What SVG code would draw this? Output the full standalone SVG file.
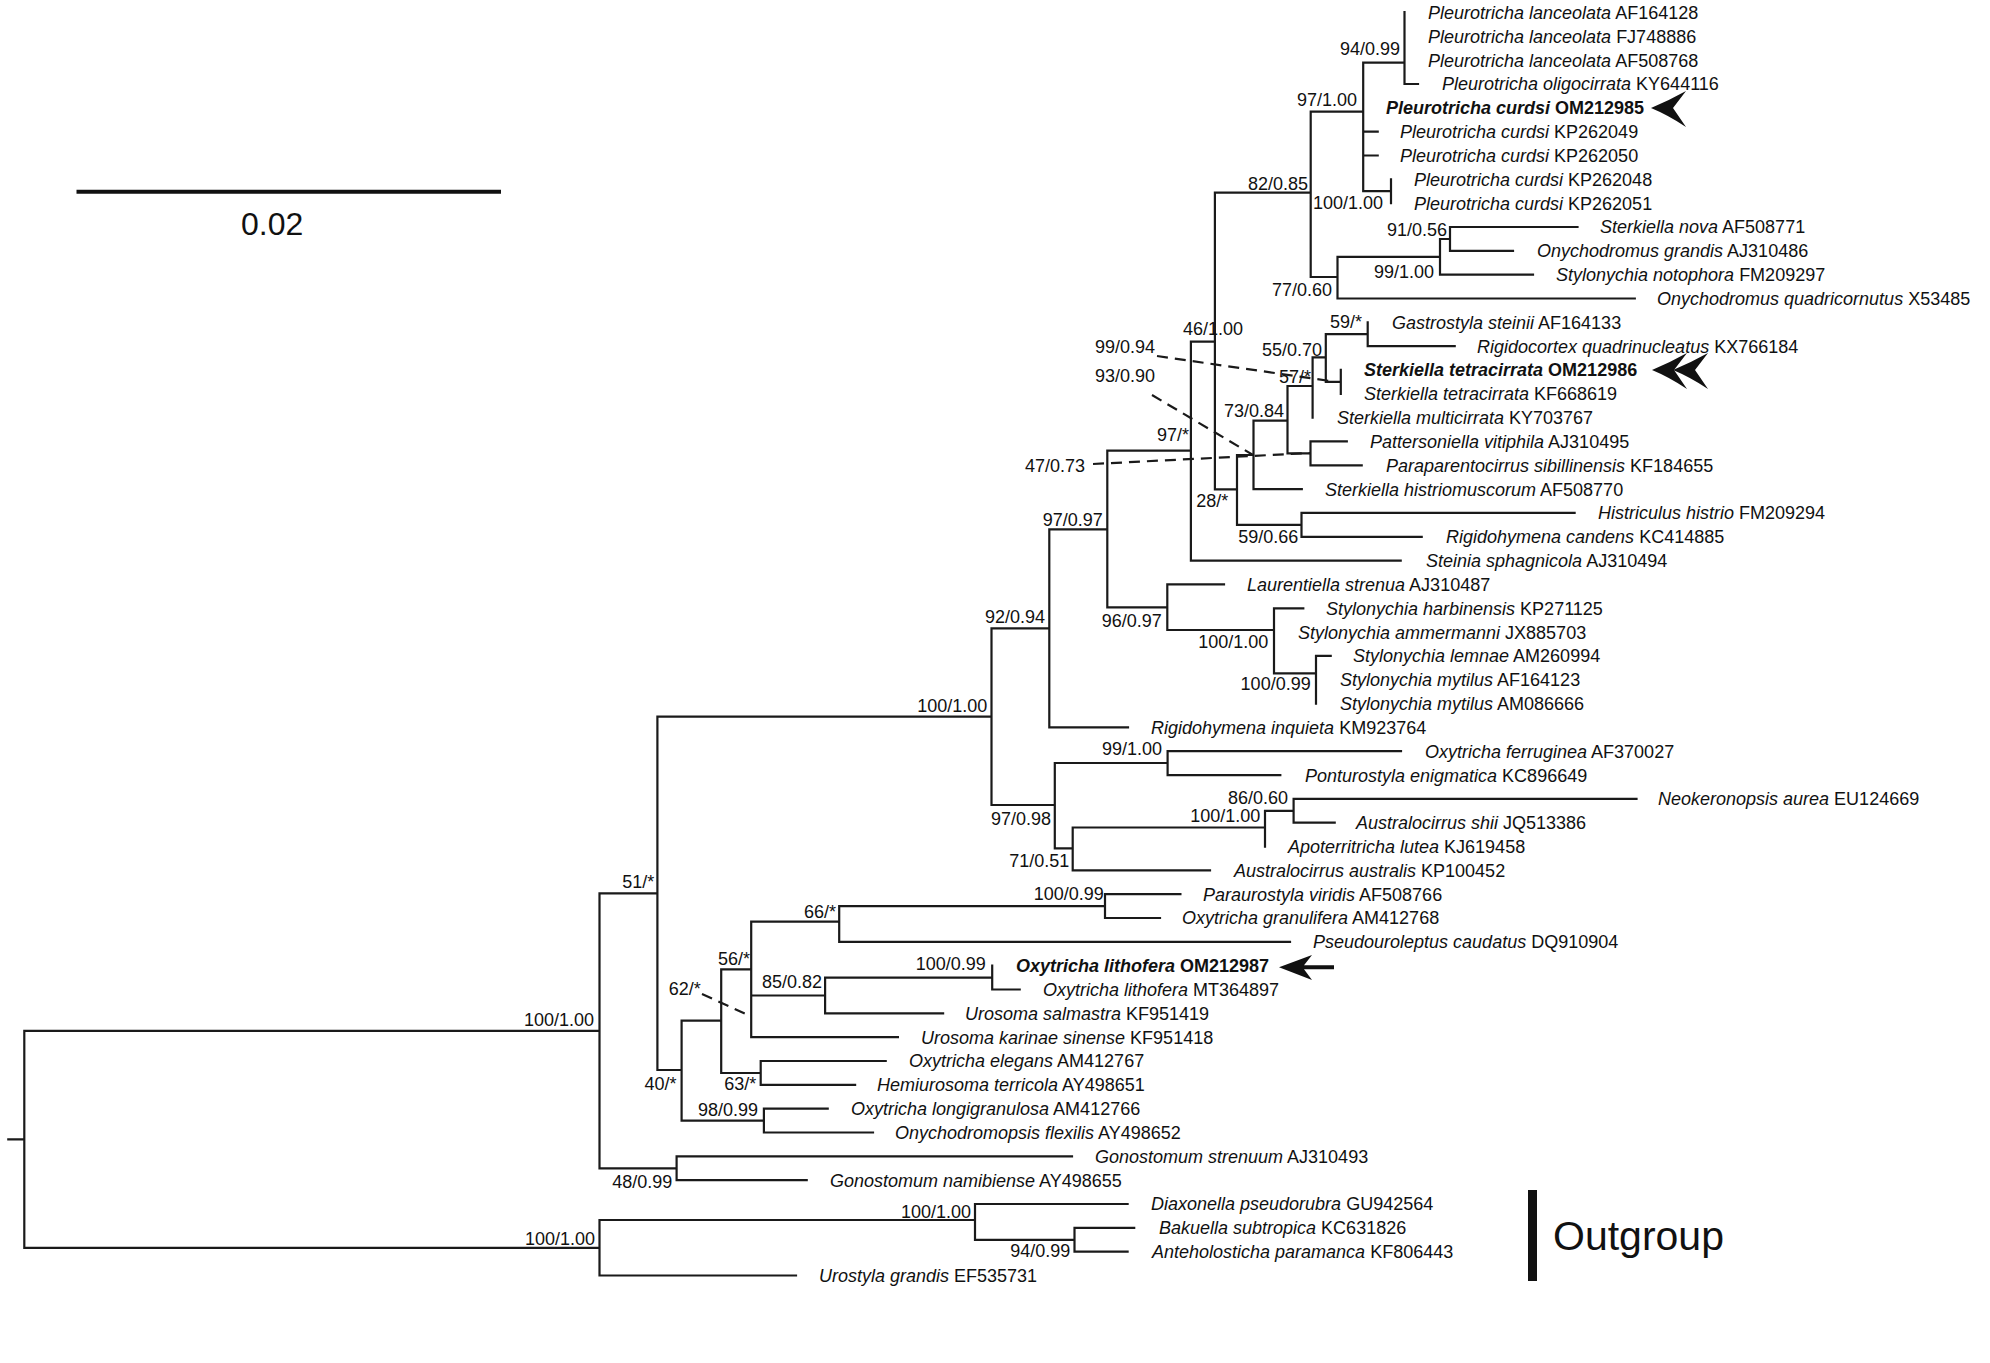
<svg xmlns="http://www.w3.org/2000/svg" width="1990" height="1363" viewBox="0 0 1990 1363">
<style>
text{font-family:"Liberation Sans",Arial,sans-serif;fill:#111}
.t{font-size:18px}
.i{font-style:italic}
.b{font-weight:bold}
.s{font-size:18px;text-anchor:end}
.br{fill:none;stroke:#1a1a1a;stroke-width:2.2;stroke-linecap:square}
.ld{fill:none;stroke:#1a1a1a;stroke-width:2.2;stroke-dasharray:11 7}
</style>
<defs>
<path id="chev" d="M0 0 Q17 -7 35 -17 L22 0 L35 19 Q17 7 0 0 Z" fill="#111"/>
</defs>
<rect width="1990" height="1363" fill="#fff"/>

<g id="connectors">
<path class="br" d="M8.3 1139.3H24.3M24.3 1030.8V1247.8M24.3 1030.8H599.5M24.3 1247.8H599.5
M599.5 893.3V1168.3M599.5 893.3H657.4M599.5 1168.3H676.6
M676.6 1156.3V1180.2M676.6 1156.3H1072M676.6 1180.2H806.7
M657.4 716.7V1070M657.4 716.7H991.5M657.4 1070H681.6
M681.6 1020.7V1120.6M681.6 1020.7H721.2M681.6 1120.6H763.9
M763.9 1108.7V1132.5M763.9 1108.7H827.7M763.9 1132.5H873
M721.2 969.3V1073M721.2 969.3H751.2M721.2 1073H760.7
M760.7 1061V1084.9M760.7 1061H885.7M760.7 1084.9H855.1
M751.2 921.7V1037.2M751.2 921.7H839.2M751.2 995.5H825.1M751.2 1037.2H897.9
M839.2 906.1V941.9M839.2 906.1H1105M839.2 941.9H1290
M1105 894.2V918M1105 894.2H1180.4M1105 918H1160
M825.1 977.6V1013.4M825.1 977.6H992.2M825.1 1013.4H943.1
M992.2 965.7V989.5M992.2 989.5H1019.7
M991.5 628.3V805M991.5 628.3H1049.3M991.5 805H1054.8
M1054.8 763V848.3M1054.8 763H1167.6M1054.8 848.3H1072.7
M1167.6 751.2V775.1M1167.6 751.2H1401M1167.6 775.1H1280.3
M1072.7 827.5V870.4M1072.7 827.5H1265M1072.7 870.4H1210
M1265 810.8V846.6M1265 810.8H1293.6
M1293.6 798.9V822.7M1293.6 798.9H1636.5M1293.6 822.7H1334.7
M1049.3 529.3V727.4M1049.3 529.3H1107.3M1049.3 727.4H1128
M1107.3 450.7V607.3M1107.3 450.7H1190.9M1107.3 607.3H1167.3
M1167.3 584.4V630M1167.3 584.4H1224M1167.3 630H1274
M1274 608.3V673.3M1274 608.3H1303.3M1274 673.3H1316
M1316 655.9V703.6M1316 655.9H1330.7
M1190.9 341.7V560.6M1190.9 341.7H1214.9M1190.9 560.6H1400.7
M1214.9 192.7V489.3M1214.9 192.7H1310.7M1214.9 489.3H1237
M1237 455V524.8M1237 455H1253.5M1237 524.8H1301.5
M1301.5 512.9V536.8M1301.5 512.9H1574.6M1301.5 536.8H1421.7
M1253.5 420.7V489.1M1253.5 420.7H1287.5M1253.5 489.1H1301.8
M1287.5 386V453.3M1287.5 386H1312.6M1287.5 453.3H1310.5
M1310.5 441.4V465.3M1310.5 441.4H1346.8M1310.5 465.3H1361.7
M1312.6 357.3V417.6M1312.6 357.3H1325.8
M1325.8 334.2V381.8M1325.8 334.2H1367.7M1325.8 381.8H1340.8
M1367.7 322.3V346.1M1367.7 346.1H1454.7
M1340.8 369.9V393.8
M1310.7 111.7V277M1310.7 111.7H1363.2M1310.7 277H1337.5
M1363.2 62.7V191.2M1363.2 62.7H1404.5M1363.2 131.7H1377.7M1363.2 155.5H1377.7M1363.2 191.2H1391
M1404.5 12V84M1404.5 84H1418
M1391 179.3V203.1
M1337.5 256.8V298.5M1337.5 256.8H1440M1337.5 298.5H1634.8
M1440 239V274.6M1440 239H1450M1440 274.6H1533
M1450 227V250.8M1450 227H1577.5M1450 250.8H1513
M599.5 1220V1275.5M599.5 1220H975M599.5 1275.5H796
M975 1204V1239.8M975 1204H1127.6M975 1239.8H1074.5
M1074.5 1227.8V1251.7M1074.5 1227.8H1134.2M1074.5 1251.7H1127.6"/>
<g id="leaders">
<path class="ld" d="M1157 356L1330 381"/>
<path class="ld" d="M1152 395L1253 455"/>
<path class="ld" d="M1093 464L1310 453"/>
<path class="ld" d="M702 994L750 1016" stroke-dasharray="9 8"/>
</g>
</g>

<g id="scale-bar">
<line x1="76.5" y1="191.7" x2="501" y2="191.7" stroke="#111" stroke-width="4"/>
<text x="241" y="235" style="font-size:32px">0.02</text>
</g>

<g id="outgroup-bracket">
<rect x="1528" y="1190" width="9" height="91" fill="#111"/>
<text x="1553" y="1250" style="font-size:41px">Outgroup</text>
</g>

<g id="arrows">
<use href="#chev" x="1651" y="108"/>
<use href="#chev" x="1652" y="370"/>
<use href="#chev" x="1673" y="370"/>
<path d="M1279 967.3L1312 955L1304 965.3H1334V969.3H1304L1312 980Z" fill="#111"/>
</g>

<g id="tips">
<g id="tip01"><text class="t" x="1428" y="18.9"><tspan class="i">Pleurotricha lanceolata</tspan> AF164128</text></g>
<g id="tip02"><text class="t" x="1428" y="42.7"><tspan class="i">Pleurotricha lanceolata</tspan> FJ748886</text></g>
<g id="tip03"><text class="t" x="1428" y="66.6"><tspan class="i">Pleurotricha lanceolata</tspan> AF508768</text></g>
<g id="tip04"><text class="t" x="1442" y="90.4"><tspan class="i">Pleurotricha oligocirrata</tspan> KY644116</text></g>
<g id="tip05"><text class="t b" x="1386" y="114.2"><tspan class="i">Pleurotricha curdsi</tspan> OM212985</text></g>
<g id="tip06"><text class="t" x="1400" y="138.1"><tspan class="i">Pleurotricha curdsi</tspan> KP262049</text></g>
<g id="tip07"><text class="t" x="1400" y="161.9"><tspan class="i">Pleurotricha curdsi</tspan> KP262050</text></g>
<g id="tip08"><text class="t" x="1414" y="185.7"><tspan class="i">Pleurotricha curdsi</tspan> KP262048</text></g>
<g id="tip09"><text class="t" x="1414" y="209.5"><tspan class="i">Pleurotricha curdsi</tspan> KP262051</text></g>
<g id="tip10"><text class="t" x="1600" y="233.4"><tspan class="i">Sterkiella nova</tspan> AF508771</text></g>
<g id="tip11"><text class="t" x="1537" y="257.2"><tspan class="i">Onychodromus grandis</tspan> AJ310486</text></g>
<g id="tip12"><text class="t" x="1556" y="281"><tspan class="i">Stylonychia notophora</tspan> FM209297</text></g>
<g id="tip13"><text class="t" x="1657" y="304.9"><tspan class="i">Onychodromus quadricornutus</tspan> X53485</text></g>
<g id="tip14"><text class="t" x="1392" y="328.7"><tspan class="i">Gastrostyla steinii</tspan> AF164133</text></g>
<g id="tip15"><text class="t" x="1477" y="352.5"><tspan class="i">Rigidocortex quadrinucleatus</tspan> KX766184</text></g>
<g id="tip16"><text class="t b" x="1364" y="376.4"><tspan class="i">Sterkiella tetracirrata</tspan> OM212986</text></g>
<g id="tip17"><text class="t" x="1364" y="400.2"><tspan class="i">Sterkiella tetracirrata</tspan> KF668619</text></g>
<g id="tip18"><text class="t" x="1337" y="424"><tspan class="i">Sterkiella multicirrata</tspan> KY703767</text></g>
<g id="tip19"><text class="t" x="1370" y="447.8"><tspan class="i">Pattersoniella vitiphila</tspan> AJ310495</text></g>
<g id="tip20"><text class="t" x="1386" y="471.7"><tspan class="i">Paraparentocirrus sibillinensis</tspan> KF184655</text></g>
<g id="tip21"><text class="t" x="1325" y="495.5"><tspan class="i">Sterkiella histriomuscorum</tspan> AF508770</text></g>
<g id="tip22"><text class="t" x="1598" y="519.3"><tspan class="i">Histriculus histrio</tspan> FM209294</text></g>
<g id="tip23"><text class="t" x="1446" y="543.2"><tspan class="i">Rigidohymena candens</tspan> KC414885</text></g>
<g id="tip24"><text class="t" x="1426" y="567"><tspan class="i">Steinia sphagnicola</tspan> AJ310494</text></g>
<g id="tip25"><text class="t" x="1247" y="590.8"><tspan class="i">Laurentiella strenua</tspan> AJ310487</text></g>
<g id="tip26"><text class="t" x="1326" y="614.7"><tspan class="i">Stylonychia harbinensis</tspan> KP271125</text></g>
<g id="tip27"><text class="t" x="1298" y="638.5"><tspan class="i">Stylonychia ammermanni</tspan> JX885703</text></g>
<g id="tip28"><text class="t" x="1353" y="662.3"><tspan class="i">Stylonychia lemnae</tspan> AM260994</text></g>
<g id="tip29"><text class="t" x="1340" y="686.1"><tspan class="i">Stylonychia mytilus</tspan> AF164123</text></g>
<g id="tip30"><text class="t" x="1340" y="710"><tspan class="i">Stylonychia mytilus</tspan> AM086666</text></g>
<g id="tip31"><text class="t" x="1151" y="733.8"><tspan class="i">Rigidohymena inquieta</tspan> KM923764</text></g>
<g id="tip32"><text class="t" x="1425" y="757.6"><tspan class="i">Oxytricha ferruginea</tspan> AF370027</text></g>
<g id="tip33"><text class="t" x="1305" y="781.5"><tspan class="i">Ponturostyla enigmatica</tspan> KC896649</text></g>
<g id="tip34"><text class="t" x="1658" y="805.3"><tspan class="i">Neokeronopsis aurea</tspan> EU124669</text></g>
<g id="tip35"><text class="t" x="1356" y="829.1"><tspan class="i">Australocirrus shii</tspan> JQ513386</text></g>
<g id="tip36"><text class="t" x="1288" y="853"><tspan class="i">Apoterritricha lutea</tspan> KJ619458</text></g>
<g id="tip37"><text class="t" x="1234" y="876.8"><tspan class="i">Australocirrus australis</tspan> KP100452</text></g>
<g id="tip38"><text class="t" x="1203" y="900.6"><tspan class="i">Paraurostyla viridis</tspan> AF508766</text></g>
<g id="tip39"><text class="t" x="1182" y="924.4"><tspan class="i">Oxytricha granulifera</tspan> AM412768</text></g>
<g id="tip40"><text class="t" x="1313" y="948.3"><tspan class="i">Pseudouroleptus caudatus</tspan> DQ910904</text></g>
<g id="tip41"><text class="t b" x="1016" y="972.1"><tspan class="i">Oxytricha lithofera</tspan> OM212987</text></g>
<g id="tip42"><text class="t" x="1043" y="995.9"><tspan class="i">Oxytricha lithofera</tspan> MT364897</text></g>
<g id="tip43"><text class="t" x="965" y="1019.8"><tspan class="i">Urosoma salmastra</tspan> KF951419</text></g>
<g id="tip44"><text class="t" x="921" y="1043.6"><tspan class="i">Urosoma karinae sinense</tspan> KF951418</text></g>
<g id="tip45"><text class="t" x="909" y="1067.4"><tspan class="i">Oxytricha elegans</tspan> AM412767</text></g>
<g id="tip46"><text class="t" x="877" y="1091.3"><tspan class="i">Hemiurosoma terricola</tspan> AY498651</text></g>
<g id="tip47"><text class="t" x="851" y="1115.1"><tspan class="i">Oxytricha longigranulosa</tspan> AM412766</text></g>
<g id="tip48"><text class="t" x="895" y="1138.9"><tspan class="i">Onychodromopsis flexilis</tspan> AY498652</text></g>
<g id="tip49"><text class="t" x="1095" y="1162.7"><tspan class="i">Gonostomum strenuum</tspan> AJ310493</text></g>
<g id="tip50"><text class="t" x="830" y="1186.6"><tspan class="i">Gonostomum namibiense</tspan> AY498655</text></g>
<g id="tip51"><text class="t" x="1151" y="1210.4"><tspan class="i">Diaxonella pseudorubra</tspan> GU942564</text></g>
<g id="tip52"><text class="t" x="1159" y="1234.2"><tspan class="i">Bakuella subtropica</tspan> KC631826</text></g>
<g id="tip53"><text class="t" x="1152" y="1258.1"><tspan class="i">Anteholosticha paramanca</tspan> KF806443</text></g>
<g id="tip54"><text class="t" x="819" y="1281.9"><tspan class="i">Urostyla grandis</tspan> EF535731</text></g>
</g>

<g id="supports">
<g id="n-pl"><text class="s" x="1400" y="55">94/0.99</text></g>
<g id="n-pc"><text class="s" x="1357" y="105.5">97/1.00</text></g>
<g id="n-pc2"><text class="s" x="1383" y="209">100/1.00</text></g>
<g id="n-82"><text class="s" x="1308" y="189.5">82/0.85</text></g>
<g id="n-91"><text class="s" x="1447" y="236">91/0.56</text></g>
<g id="n-99n"><text class="s" x="1434" y="278">99/1.00</text></g>
<g id="n-77"><text class="s" x="1332" y="295.5">77/0.60</text></g>
<g id="n-46"><text class="s" x="1243" y="334.8">46/1.00</text></g>
<g id="n-59a"><text class="s" x="1362" y="328">59/*</text></g>
<g id="n-55"><text class="s" x="1322" y="356">55/0.70</text></g>
<g id="n-tetra"><text class="s" x="1155" y="353">99/0.94</text></g>
<g id="n-93"><text class="s" x="1155" y="381.5">93/0.90</text></g>
<g id="n-57"><text class="s" x="1311" y="382.5">57/*</text></g>
<g id="n-73"><text class="s" x="1284" y="416.5">73/0.84</text></g>
<g id="n-97s"><text class="s" x="1189" y="440.7">97/*</text></g>
<g id="n-47"><text class="s" x="1085" y="471.7">47/0.73</text></g>
<g id="n-28"><text class="s" x="1228.3" y="507.3">28/*</text></g>
<g id="n-59b"><text class="s" x="1298.3" y="542.7">59/0.66</text></g>
<g id="n-97a"><text class="s" x="1102.7" y="526">97/0.97</text></g>
<g id="n-96"><text class="s" x="1161.7" y="627.3">96/0.97</text></g>
<g id="n-92"><text class="s" x="1045" y="623.3">92/0.94</text></g>
<g id="n-sty1"><text class="s" x="1268.3" y="648.3">100/1.00</text></g>
<g id="n-sty2"><text class="s" x="1310.7" y="690">100/0.99</text></g>
<g id="n-100m"><text class="s" x="987.3" y="711.7">100/1.00</text></g>
<g id="n-99f"><text class="s" x="1162" y="755">99/1.00</text></g>
<g id="n-86"><text class="s" x="1288" y="804">86/0.60</text></g>
<g id="n-100a"><text class="s" x="1260.4" y="822.3">100/1.00</text></g>
<g id="n-97b"><text class="s" x="1051" y="825">97/0.98</text></g>
<g id="n-71"><text class="s" x="1069.4" y="866.7">71/0.51</text></g>
<g id="n-51"><text class="s" x="654.2" y="888.3">51/*</text></g>
<g id="n-100p"><text class="s" x="1103.9" y="900">100/0.99</text></g>
<g id="n-66"><text class="s" x="836" y="918.3">66/*</text></g>
<g id="n-56"><text class="s" x="750" y="964.5">56/*</text></g>
<g id="n-100l"><text class="s" x="985.9" y="970">100/0.99</text></g>
<g id="n-85"><text class="s" x="822" y="988.3">85/0.82</text></g>
<g id="n-62"><text class="s" x="700.8" y="994.8">62/*</text></g>
<g id="n-100i"><text class="s" x="594" y="1025.5">100/1.00</text></g>
<g id="n-40"><text class="s" x="676.5" y="1089.8">40/*</text></g>
<g id="n-63"><text class="s" x="756.3" y="1090">63/*</text></g>
<g id="n-98"><text class="s" x="758" y="1115.8">98/0.99</text></g>
<g id="n-48"><text class="s" x="672.4" y="1188">48/0.99</text></g>
<g id="n-100d"><text class="s" x="971" y="1218">100/1.00</text></g>
<g id="n-100o"><text class="s" x="595" y="1244.8">100/1.00</text></g>
<g id="n-94b"><text class="s" x="1070.4" y="1257">94/0.99</text></g>
</g>
</svg>
